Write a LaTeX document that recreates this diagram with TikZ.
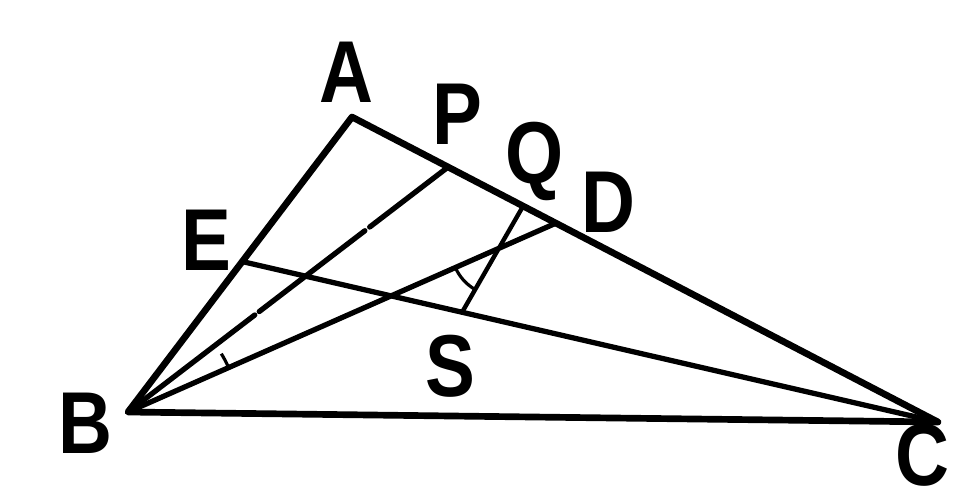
\documentclass[tikz,border=0pt]{standalone}
\usepackage{fontspec}
\usepackage{graphicx}
\setmainfont{Liberation Sans}
\usetikzlibrary{calc,intersections}
\tikzset{
  side/.style={line width=3.8pt, line join=round, line cap=round},
  inner/.style={line width=3.0pt, line cap=round},
  thin/.style={line width=2.5pt, line cap=round},
  anglemark/.style={line width=1.8pt},
  lab/.style={inner sep=0pt, font=\fontsize{50}{50}\selectfont\bfseries}
}
\newcommand{\lbl}[1]{\scalebox{0.85}[1]{#1}}
\begin{document}
\begin{tikzpicture}
\useasboundingbox (0,0) rectangle (19.22,-10.04);
\coordinate (A) at (7.04,-2.34);
\coordinate (B) at (2.56,-8.24);
\coordinate (C) at (18.76,-8.44);
\coordinate (P) at ($(A)!0.164!(C)$);
\coordinate (Q) at ($(A)!0.292!(C)$);
\coordinate (D) at ($(A)!0.348!(C)$);
\coordinate (E) at ($(A)!0.49!(B)$);
\coordinate (S) at ($(E)!0.316!(C)$);
% triangle
\draw[side] (A) -- (B) -- (C) -- cycle;
% cevians
\draw[inner] (B) -- ($(B)!0.396!(P)$);
\draw[inner] ($(B)!0.41!(P)$) -- ($(B)!0.74!(P)$);
\draw[inner] ($(B)!0.755!(P)$) -- (P);
\draw[inner, name path=bd] (B) -- (D);
\draw[inner] (E) -- (C);
\draw[thin, name path=qs] (Q) -- (S);
\path[name intersections={of=bd and qs, by=X}];
% angle marks
\draw[anglemark] ([shift={(203.8:0.95)}]X) arc[start angle=203.8, end angle=240.1, radius=0.95];
\draw[anglemark] ([shift={(23.8:2.2)}]B) arc[start angle=23.8, end angle=32, radius=2.2];
% labels
\node[lab] (lA) at (6.92,-1.45) {\lbl{A}};
\node[lab] (lP) at (9.14,-2.28) {\lbl{P}};
\node[lab] (lQ) at (10.70,-3.22) {\lbl{Q}};
\node[lab] (lD) at (12.16,-4.04) {\lbl{D}};
\node[lab] (lE) at (4.12,-4.80) {\lbl{E}};
\node[lab] (lB) at (1.70,-8.46) {\lbl{B}};
\node[lab] (lS) at (9.00,-7.32) {\lbl{S}};
\node[lab] (lC) at (18.45,-9.10) {\lbl{C}};
\end{tikzpicture}
\end{document}
